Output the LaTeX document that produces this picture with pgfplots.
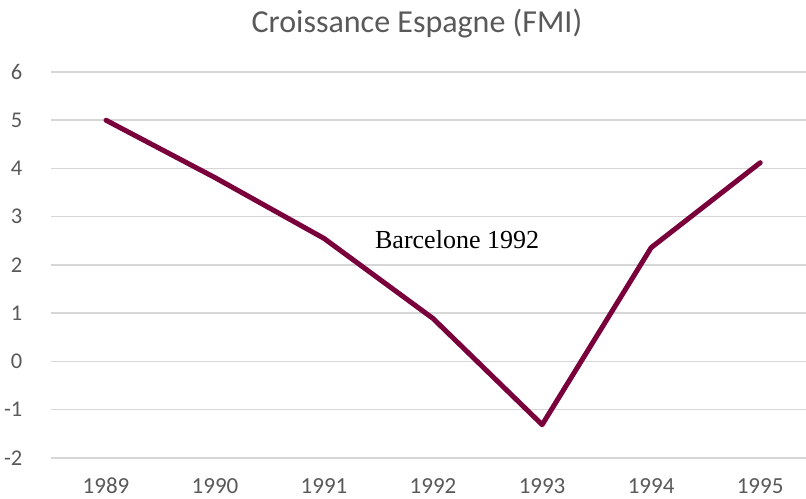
\documentclass[border=0pt]{standalone}
\usepackage{fontspec}
\setmainfont{Carlito}
\newfontfamily\timesfont{Liberation Serif}
\usepackage{pgfplots}
\pgfplotsset{compat=1.18}
\definecolor{linecol}{RGB}{122,0,60}
\definecolor{gridcol}{RGB}{214,214,214}
\definecolor{textcol}{RGB}{89,89,89}
\begin{document}
\begin{tikzpicture}
\begin{axis}[
  name=ax,
  scale only axis,
  width=754.5bp, height=386bp,
  xmin=1988.5, xmax=1995.42,
  ymin=-2, ymax=6,
  xtick={1989,...,1995},
  ytick={-2,...,6},
  xticklabels={1989,1990,1991,1992,1993,1994,1995},
  axis line style={draw=none},
  major tick length=0pt,
  ymajorgrids,
  grid style={gridcol, line width=1.5bp},
  /pgf/number format/assume math mode=true,
  yticklabel style={font=\fontsize{22.5bp}{25bp}\selectfont, text=textcol, inner sep=0pt, anchor=east, xshift=-29bp},
  xticklabel style={font=\fontsize{23bp}{26bp}\selectfont, text=textcol, inner sep=0pt, anchor=north, yshift=-20bp},
  clip=false,
]
\addplot[linecol, line width=5bp, line cap=round, line join=round] coordinates {
  (1989,5.00) (1990,3.81) (1991,2.55) (1992,0.89) (1993,-1.31) (1994,2.36) (1995,4.12)
};
\node[anchor=base, font=\timesfont\fontsize{26bp}{30bp}\selectfont, text=black, inner sep=0pt] at (axis cs:1992.22,2.35) {Barcelone 1992};
\node[anchor=base, font=\fontsize{32bp}{36bp}\selectfont, text=textcol, inner sep=0pt] at ([yshift=39bp]rel axis cs:0.4844,1) {Croissance Espagne (FMI)};
\end{axis}
\pgfresetboundingbox
\path[use as bounding box] ([shift={(-51.5bp,-41bp)}]ax.south west) rectangle ([shift={(0bp,72bp)}]ax.north east);
\end{tikzpicture}
\end{document}
